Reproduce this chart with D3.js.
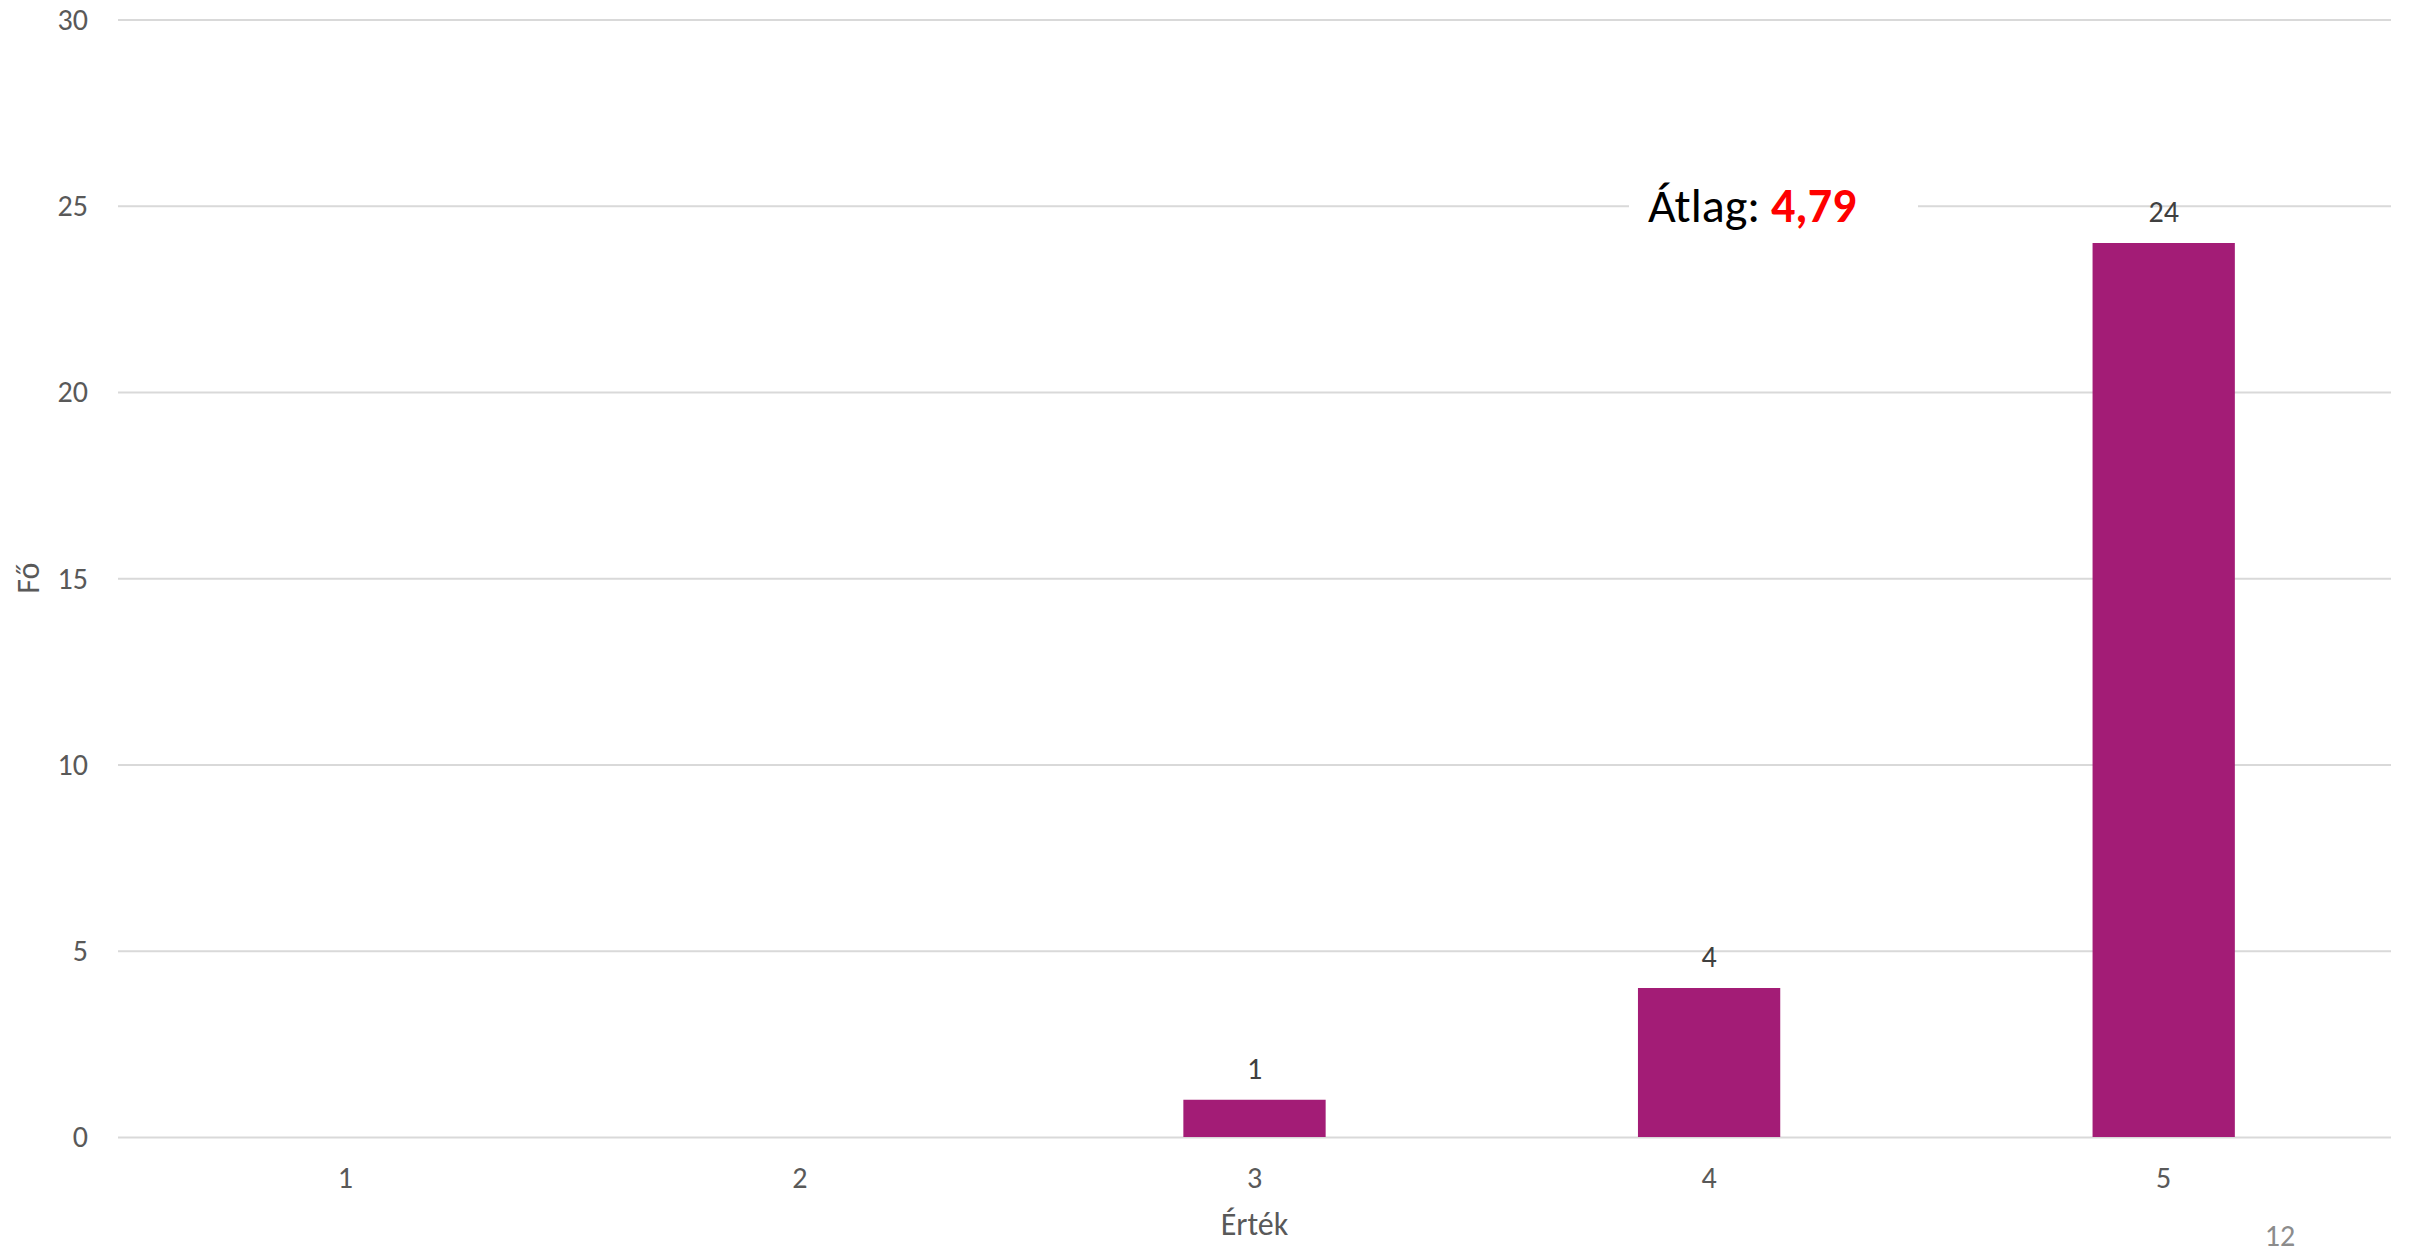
<!DOCTYPE html>
<html><head><meta charset="utf-8">
<script src="https://cdn.jsdelivr.net/npm/d3@7"></script>
<style>
html,body{margin:0;padding:0;background:#fff;}
svg{display:block;font-family:Carlito,Lato,"Open Sans",sans-serif;}
</style></head>
<body>
<svg id="chart" width="2413" height="1253"></svg>
<script>
const categories = ["1","2","3","4","5"];
const values = [0,0,1,4,24];
const yTicks = [0,5,10,15,20,25,30];
const xTitle = "Érték";
const yTitle = "Fő";
const avgLabel = "Átlag: ";
const avgValue = "4,79";
const pageNum = "12";

const svg = d3.select("#chart");
const L = 118, R = 2391, T = 19.5, B = 1137;
const x = d3.scaleBand().domain(categories).range([L, R]).padding(0);
const y = d3.scaleLinear().domain([0, 30]).range([B, T]);
const barFrac = 0.313;

// grid + y axis
const gy = svg.append("g").attr("transform", `translate(${L},0)`)
  .call(d3.axisLeft(y).tickValues(yTicks).tickSize(-(R - L)).tickPadding(30))
  .attr("font-family", null).attr("font-size", null);
gy.select(".domain").remove();
gy.selectAll(".tick line").attr("stroke", "#d9d9d9").attr("stroke-width", 2);
gy.selectAll(".tick text").attr("fill", "#595959").style("font-size", "30px").attr("dy", "0.33em");

// x axis
const gx = svg.append("g").attr("transform", `translate(0,${B})`)
  .call(d3.axisBottom(x).tickSize(0).tickPadding(0))
  .attr("font-family", null).attr("font-size", null);
gx.select(".domain").remove();
gx.selectAll(".tick text").attr("fill", "#595959").style("font-size", "30px").attr("dy", null).attr("y", 51);

// bars
const bw = x.bandwidth() * barFrac;
svg.append("g").selectAll("rect").data(categories.map((c, i) => ({c, v: values[i]})).filter(d => d.v > 0))
  .join("rect")
  .attr("x", d => x(d.c) + (x.bandwidth() - bw) / 2)
  .attr("y", d => y(d.v))
  .attr("width", bw)
  .attr("height", d => y(0) - y(d.v))
  .attr("fill", "#a31c76");

// data labels
svg.append("g").selectAll("text").data(categories.map((c, i) => ({c, v: values[i]})).filter(d => d.v > 0))
  .join("text")
  .attr("x", d => x(d.c) + x.bandwidth() / 2)
  .attr("y", d => y(d.v) - 21)
  .attr("text-anchor", "middle")
  .attr("fill", "#404040")
  .style("font-size", "30px")
  .text(d => d.v);

// axis titles
svg.append("text").attr("x", (L + R) / 2).attr("y", 1235).attr("text-anchor", "middle")
  .attr("fill", "#595959").style("font-size", "32px").text(xTitle);
svg.append("text").attr("transform", `translate(39,${(T + B) / 2}) rotate(-90)`).attr("text-anchor", "middle")
  .attr("fill", "#595959").style("font-size", "32px").text(yTitle);

// average annotation
svg.append("rect").attr("x", 1629).attr("y", 160).attr("width", 289).attr("height", 80).attr("fill", "#fff");
const at = svg.append("text").attr("x", 1648).attr("y", 222).style("font-size", "48px");
at.append("tspan").attr("fill", "#000").text(avgLabel);
at.append("tspan").attr("fill", "#ff0000").attr("font-weight", "bold").text(avgValue);

// page number
svg.append("text").attr("x", 2280).attr("y", 1246).attr("text-anchor", "middle")
  .attr("fill", "#8c8c8c").style("font-size", "30px").text(pageNum);
</script>
</body></html>
